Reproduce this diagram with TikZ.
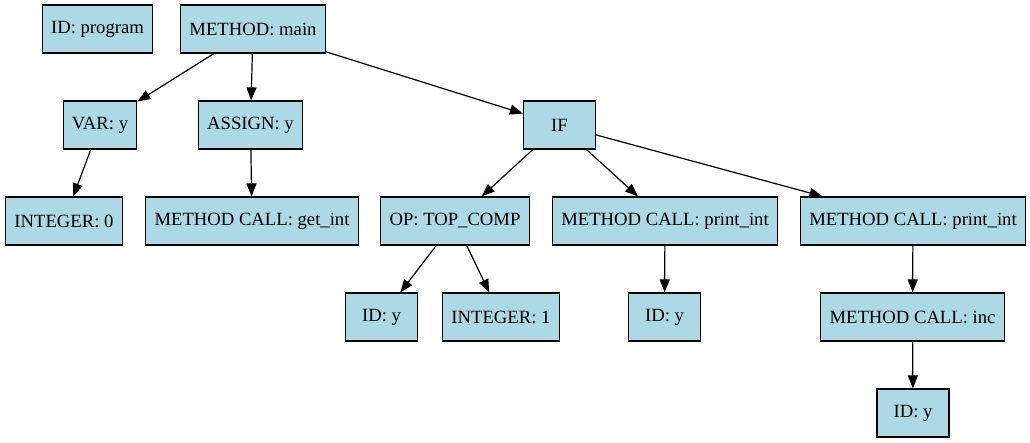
\documentclass[tikz,border=0pt]{standalone}
\usepackage{fontspec}
\setmainfont{Liberation Serif}
\usetikzlibrary{arrows.meta}
\definecolor{nodeblue}{HTML}{ADD8E6}

\begin{document}
\begin{tikzpicture}[x=1pt,y=-1pt]
\tikzstyle{astnode}=[draw=black,fill=nodeblue,line width=1.2pt,rectangle,
  minimum height=48pt,minimum width=72pt,inner xsep=8.7pt,
  font=\fontsize{18.67}{22}\selectfont]
\tikzstyle{edge}=[line width=1.2pt,-{Triangle[length=13pt,width=10pt]}]
\useasboundingbox (0,0) rectangle (1030,443);
% first row
\node[astnode] (idprog) at (97.5,29) {ID: program};
\node[astnode] (main) at (253,29) {METHOD: main};
% second row
\node[astnode] (vary) at (100,125) {VAR: y};
\node[astnode] (assigny) at (250.5,125) {ASSIGN: y};
\node[astnode] (ifn) at (559.5,125) {IF};
% third row
\node[astnode] (int0) at (64,221) {INTEGER: 0};
\node[astnode] (getint) at (252,221) {METHOD CALL: get\_int};
\node[astnode] (opcomp) at (455,221) {OP: TOP\_COMP};
\node[astnode] (print1) at (665,221) {METHOD CALL: print\_int};
\node[astnode] (print2) at (913,221) {METHOD CALL: print\_int};
% fourth row
\node[astnode] (idy1) at (381.5,317) {ID: y};
\node[astnode] (int1) at (501,317) {INTEGER: 1};
\node[astnode] (idy2) at (664.5,317) {ID: y};
\node[astnode] (inc) at (912.5,317) {METHOD CALL: inc};
% last row
\node[astnode] (idy3) at (913,413) {ID: y};
\foreach \a/\b in {main/vary,main/assigny,main/ifn,vary/int0,assigny/getint,
  ifn/opcomp,ifn/print1,ifn/print2,opcomp/idy1,opcomp/int1,print1/idy2,
  print2/inc,inc/idy3}
	\draw[edge] (\a) to (\b);
\end{tikzpicture}
\end{document}
